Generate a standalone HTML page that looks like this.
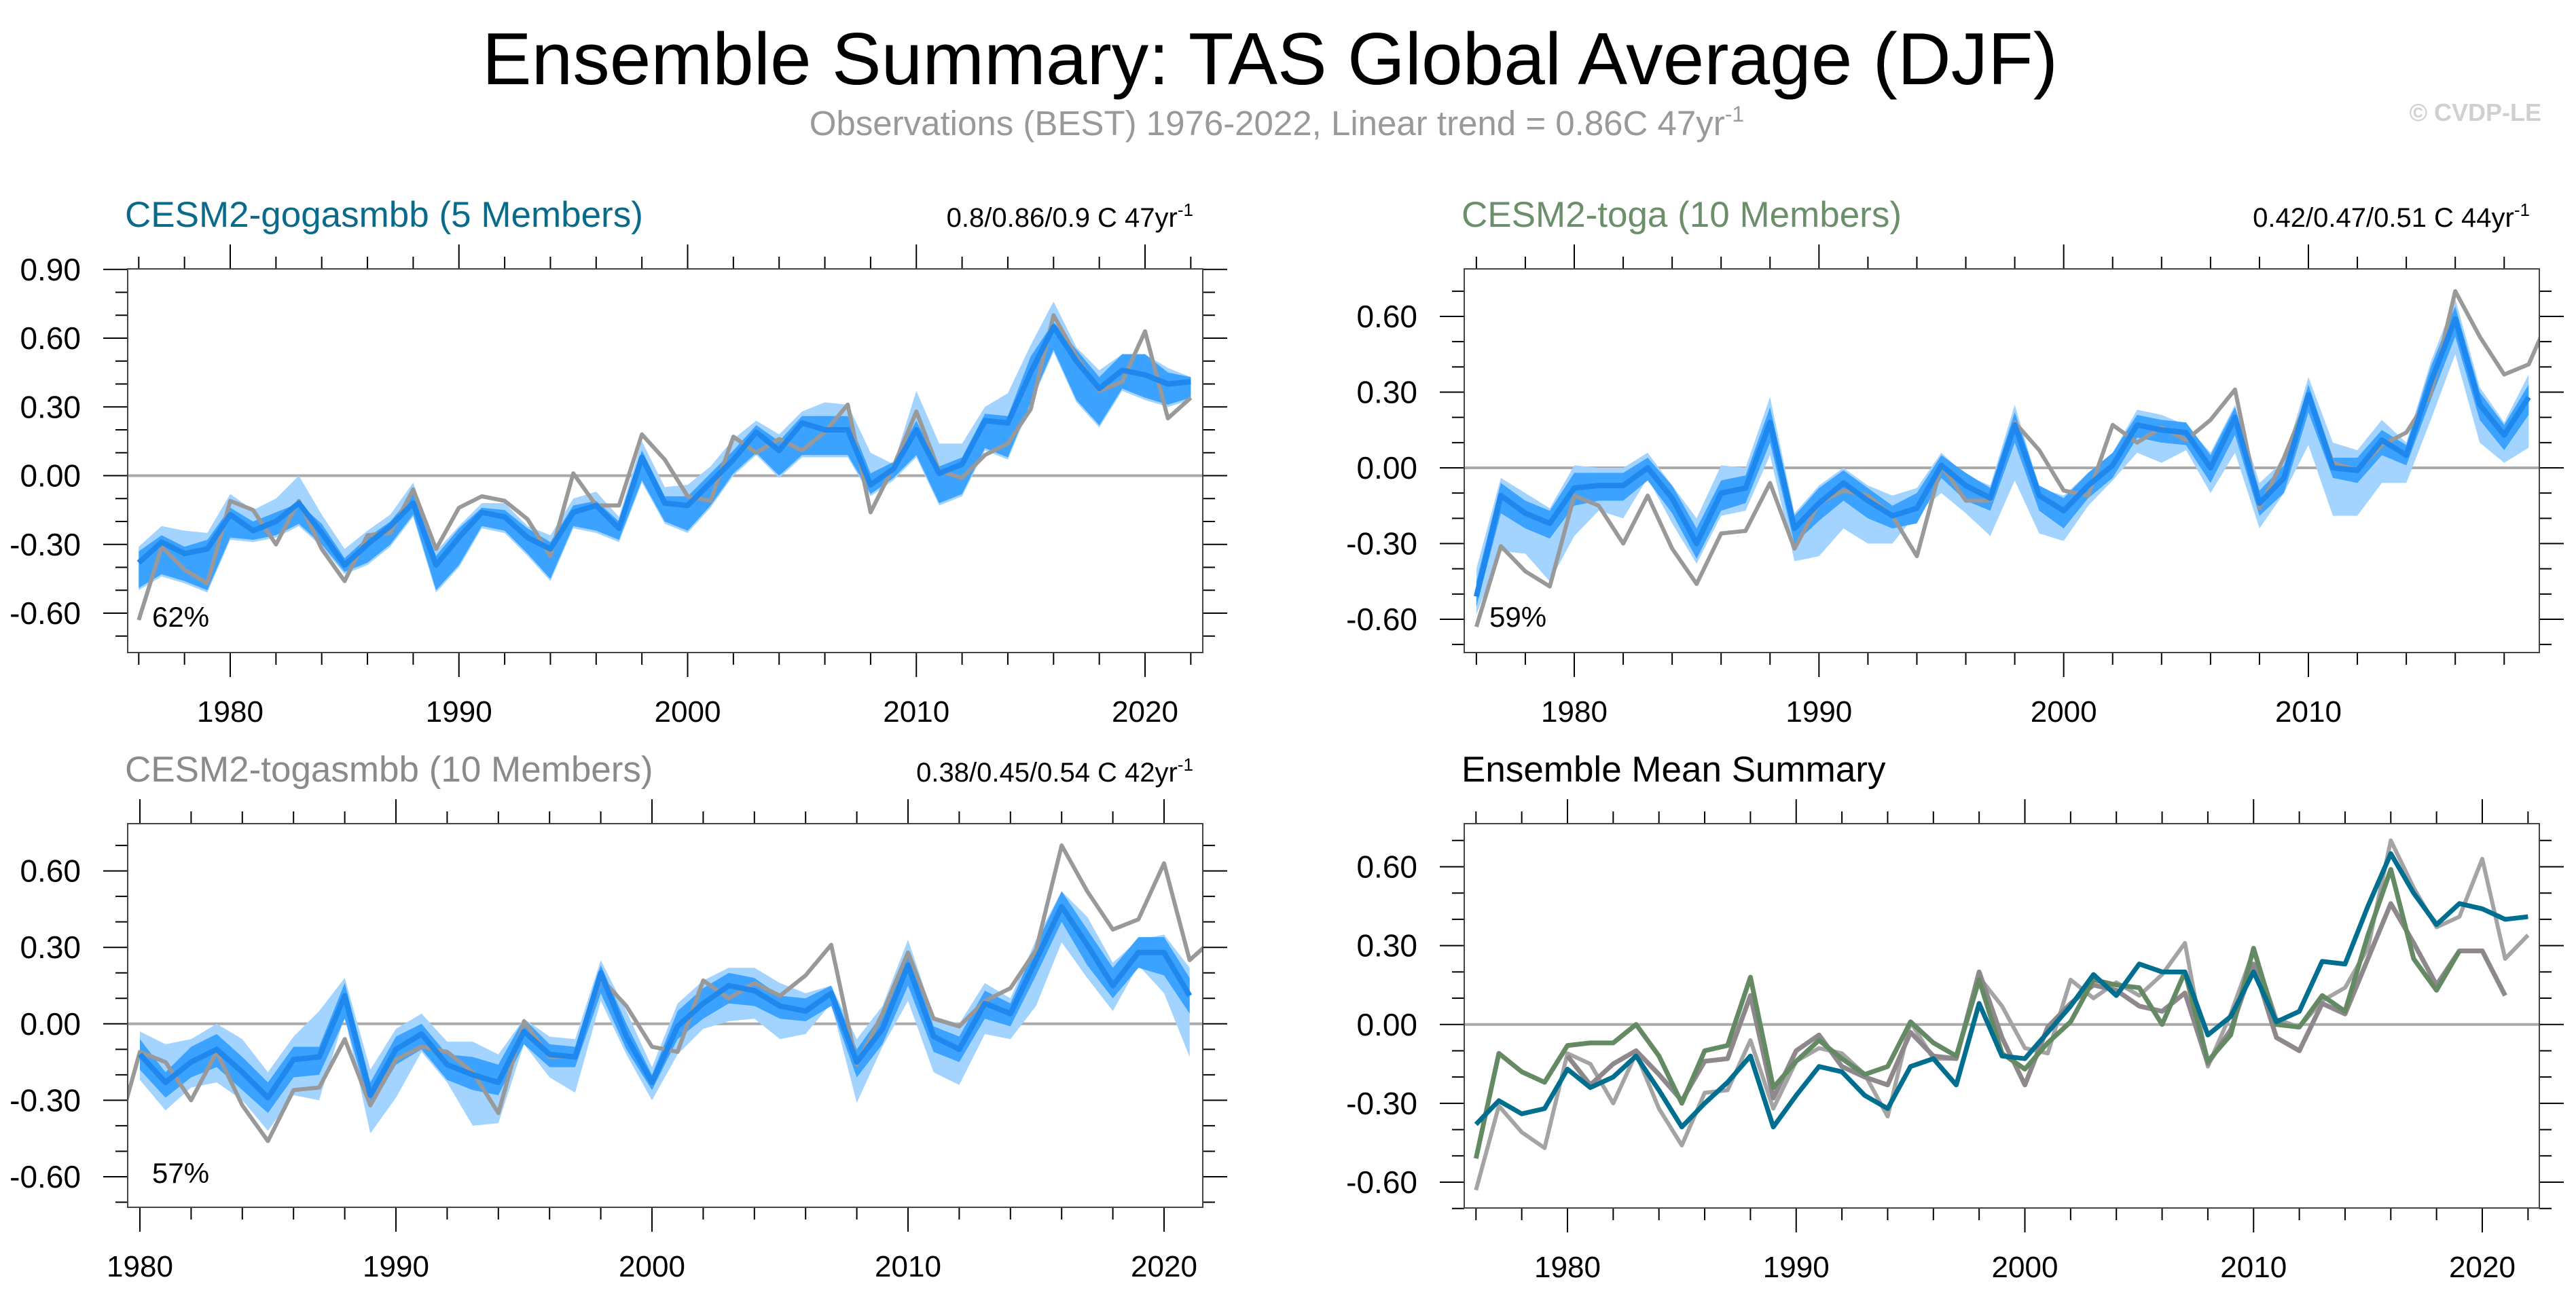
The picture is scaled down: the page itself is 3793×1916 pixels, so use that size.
<!DOCTYPE html>
<html><head><meta charset="utf-8"><style>
html,body{margin:0;padding:0;background:#fff;}
svg{display:block;font-family:"Liberation Sans",sans-serif;}
</style></head><body>
<svg id="chart" width="3793" height="1916" viewBox="0 0 3793 1916" xmlns="http://www.w3.org/2000/svg">
<text x="1870" y="124" font-size="109" text-anchor="middle" fill="#000">Ensemble Summary: TAS Global Average (DJF)</text>
<text x="1880" y="199" font-size="51" text-anchor="middle" fill="#999">Observations (BEST) 1976-2022, Linear trend = 0.86C 47yr<tspan dy="-20" font-size="32">-1</tspan></text>
<text x="3742" y="178" font-size="36" font-weight="bold" text-anchor="end" fill="#d0d0d0">© CVDP-LE</text>
</svg>
<script>
// ---- data ----
const obsYears0 = 1976;
const obs = [-0.63,-0.31,-0.41,-0.47,-0.11,-0.15,-0.30,-0.11,-0.32,-0.46,-0.26,-0.25,-0.06,-0.32,-0.14,-0.09,-0.11,-0.19,-0.35,0.01,-0.13,-0.13,0.18,0.07,-0.09,-0.11,0.17,0.10,0.16,0.11,0.19,0.31,-0.16,0.04,0.28,0.02,-0.01,0.09,0.14,0.29,0.70,0.52,0.37,0.41,0.63,0.25,0.34];

const m1Start = 1976;
const m1Mean = [-0.38,-0.29,-0.34,-0.32,-0.17,-0.24,-0.20,-0.12,-0.25,-0.39,-0.30,-0.22,-0.12,-0.39,-0.27,-0.16,-0.18,-0.27,-0.32,-0.16,-0.13,-0.23,0.08,-0.12,-0.13,-0.03,0.07,0.19,0.11,0.23,0.20,0.20,-0.04,0.03,0.20,0.01,0.05,0.24,0.23,0.45,0.65,0.50,0.38,0.46,0.44,0.40,0.41];
const m1DarkLo = [-0.49,-0.43,-0.46,-0.50,-0.27,-0.28,-0.26,-0.21,-0.30,-0.42,-0.38,-0.30,-0.17,-0.50,-0.39,-0.22,-0.24,-0.34,-0.45,-0.22,-0.24,-0.28,-0.02,-0.20,-0.24,-0.13,0.01,0.10,0.00,0.09,0.09,0.09,-0.08,-0.01,0.09,-0.12,-0.08,0.12,0.08,0.32,0.55,0.33,0.22,0.38,0.34,0.31,0.34];
const m1DarkHi = [-0.33,-0.26,-0.31,-0.28,-0.14,-0.20,-0.16,-0.12,-0.21,-0.36,-0.27,-0.20,-0.08,-0.35,-0.23,-0.14,-0.15,-0.23,-0.29,-0.13,-0.11,-0.20,0.11,-0.09,-0.09,0.01,0.11,0.22,0.15,0.26,0.26,0.26,0.01,0.06,0.24,0.04,0.08,0.27,0.26,0.52,0.67,0.55,0.43,0.53,0.53,0.45,0.43];
const m1LightLo = [-0.50,-0.44,-0.47,-0.51,-0.28,-0.29,-0.27,-0.22,-0.31,-0.43,-0.39,-0.31,-0.18,-0.51,-0.40,-0.23,-0.25,-0.35,-0.46,-0.23,-0.25,-0.29,-0.03,-0.21,-0.25,-0.14,0.00,0.09,-0.01,0.08,0.08,0.08,-0.09,-0.02,0.08,-0.13,-0.09,0.11,0.07,0.31,0.54,0.32,0.21,0.37,0.33,0.30,0.33];
const m1LightHi = [-0.31,-0.22,-0.24,-0.25,-0.08,-0.15,-0.10,0.00,-0.17,-0.32,-0.24,-0.17,-0.03,-0.33,-0.22,-0.12,-0.12,-0.22,-0.26,-0.10,-0.07,-0.18,0.15,-0.05,-0.04,0.04,0.16,0.24,0.18,0.28,0.32,0.31,0.10,0.05,0.37,0.14,0.14,0.30,0.36,0.57,0.76,0.56,0.46,0.53,0.53,0.47,0.43];

const m2Start = 1976;
const m2Mean = [-0.51,-0.11,-0.18,-0.22,-0.08,-0.07,-0.07,0.00,-0.12,-0.30,-0.10,-0.08,0.18,-0.24,-0.14,-0.06,-0.13,-0.19,-0.16,0.01,-0.07,-0.12,0.17,-0.11,-0.17,-0.07,0.01,0.17,0.15,0.14,0.00,0.20,-0.14,-0.04,0.29,0.00,-0.01,0.11,0.05,0.34,0.59,0.25,0.13,0.28];
const m2DarkLo = [-0.55,-0.18,-0.24,-0.28,-0.15,-0.13,-0.13,-0.05,-0.18,-0.36,-0.17,-0.14,0.10,-0.30,-0.21,-0.13,-0.20,-0.24,-0.22,-0.04,-0.13,-0.17,0.10,-0.17,-0.24,-0.12,-0.04,0.12,0.10,0.09,-0.06,0.13,-0.19,-0.10,0.22,-0.04,-0.06,0.05,0.01,0.27,0.52,0.19,0.07,0.21];
const m2DarkHi = [-0.45,-0.06,-0.13,-0.17,-0.02,-0.02,-0.02,0.04,-0.07,-0.24,-0.05,-0.03,0.24,-0.19,-0.08,-0.01,-0.08,-0.15,-0.10,0.05,-0.02,-0.08,0.22,-0.07,-0.12,-0.02,0.06,0.21,0.19,0.18,0.05,0.24,-0.09,0.01,0.33,0.04,0.04,0.15,0.09,0.40,0.64,0.30,0.17,0.33];
const m2LightLo = [-0.58,-0.33,-0.34,-0.45,-0.27,-0.17,-0.20,-0.04,-0.22,-0.38,-0.19,-0.17,0.05,-0.37,-0.35,-0.24,-0.30,-0.30,-0.18,-0.10,-0.18,-0.27,-0.05,-0.26,-0.29,-0.15,-0.05,0.06,0.02,0.07,-0.10,0.06,-0.24,-0.10,0.09,-0.19,-0.19,-0.06,-0.06,0.19,0.45,0.10,0.02,0.08];
const m2LightHi = [-0.40,-0.04,-0.10,-0.16,0.01,0.00,0.00,0.06,-0.07,-0.20,0.01,0.00,0.28,-0.18,-0.07,0.00,-0.07,-0.11,-0.08,0.06,-0.03,-0.07,0.25,-0.08,-0.11,-0.02,0.06,0.23,0.21,0.17,0.06,0.25,-0.06,0.03,0.36,0.10,0.07,0.19,0.10,0.42,0.67,0.32,0.18,0.37];

const m3Start = 1980;
const m3Mean = [-0.12,-0.23,-0.15,-0.10,-0.19,-0.29,-0.14,-0.13,0.11,-0.28,-0.10,-0.04,-0.16,-0.20,-0.23,-0.03,-0.12,-0.13,0.20,-0.05,-0.23,-0.01,0.08,0.15,0.13,0.07,0.05,0.12,-0.15,-0.02,0.23,-0.05,-0.10,0.08,0.04,0.25,0.46,0.31,0.15,0.28,0.28,0.11];
const m3DarkLo = [-0.18,-0.29,-0.21,-0.17,-0.26,-0.35,-0.21,-0.20,0.02,-0.33,-0.16,-0.10,-0.22,-0.26,-0.28,-0.08,-0.17,-0.17,0.12,-0.10,-0.26,-0.06,0.02,0.08,0.07,0.02,0.01,0.07,-0.21,-0.08,0.15,-0.11,-0.15,0.02,-0.01,0.19,0.40,0.23,0.10,0.22,0.19,0.04];
const m3DarkHi = [-0.06,-0.19,-0.09,-0.04,-0.13,-0.23,-0.09,-0.09,0.16,-0.23,-0.05,0.00,-0.12,-0.13,-0.16,0.02,-0.08,-0.09,0.23,0.00,-0.20,0.05,0.14,0.20,0.18,0.11,0.10,0.15,-0.10,0.04,0.28,-0.01,-0.05,0.13,0.08,0.31,0.52,0.37,0.22,0.34,0.34,0.18];
const m3LightLo = [-0.22,-0.34,-0.25,-0.23,-0.30,-0.42,-0.28,-0.30,0.03,-0.43,-0.29,-0.11,-0.23,-0.40,-0.39,-0.08,-0.21,-0.27,0.09,-0.12,-0.30,-0.12,-0.02,0.01,0.02,-0.06,-0.04,0.08,-0.31,-0.09,0.09,-0.19,-0.24,-0.04,-0.06,0.07,0.32,0.18,0.05,0.23,0.12,-0.13];
const m3LightHi = [-0.03,-0.08,-0.06,0.00,-0.06,-0.19,-0.05,0.05,0.18,-0.18,-0.02,0.04,-0.07,-0.07,-0.12,0.02,-0.05,-0.06,0.25,0.05,-0.17,0.08,0.17,0.22,0.22,0.16,0.12,0.15,-0.06,0.07,0.33,0.03,0.00,0.16,0.10,0.33,0.52,0.42,0.24,0.33,0.35,0.22];

const xTickYears = [1980,1990,2000,2010,2020];

// ---- drawing ----
const NS = "http://www.w3.org/2000/svg";
const svg = document.getElementById("chart");
function mk(tag, attrs, parent){
  const e = document.createElementNS(NS, tag);
  for (const k in attrs) e.setAttribute(k, attrs[k]);
  (parent||svg).appendChild(e);
  return e;
}
let clipN = 0;
function panel(cfg){
  const g = mk("g", {});
  
  
  const xs = yr => cfg.xa + (yr - cfg.ya) * (cfg.xb - cfg.xa) / (cfg.yb - cfg.ya);
  const ys = v => cfg.v0 + (v - 0.6) * (cfg.v1 - cfg.v0) / (-1.2);
  const {L,R,T,B} = cfg;
  const yMin = 1976, yMax = 2022;
  const tk = mk("g", {stroke:"#000","stroke-width":2}, g);
  
  
  for (let yr = yMin; yr <= yMax; yr += 2) {
    const x = xs(yr);
    if (x < L - 1 || x > R + 1) continue;
    const major = yr % 10 === 0;
    const len = major ? 36 : 18;
    mk("line", {x1:x, y1:T, x2:x, y2:T - len}, tk);
    mk("line", {x1:x, y1:B, x2:x, y2:B + len}, tk);
  }
  for (let i = -10; i <= 10; i++) {
    const v = i / 10;
    const y = ys(v);
    if (y < T - 1 || y > B + 1) continue;
    const major = (i % 3 === 0);
    const len = major ? 36 : 18;
    mk("line", {x1:L, y1:y, x2:L - len, y2:y}, tk);
    mk("line", {x1:R, y1:y, x2:R + len, y2:y}, tk);
    if (major) {
      const lab = (v === 0 ? "0.00" : v.toFixed(2));
      const t = mk("text", {x:L - 69, y:y + 16, "font-size":46, "text-anchor":"end", fill:"#000"}, g);
      
      
      t.textContent = lab;
    }
  }
  xTickYears.forEach(yr => {
    const x = xs(yr);
    if (x < L - 5 || x > R + 5) return;
    const t = mk("text", {x:x, y:B + 102, "font-size":44, "text-anchor":"middle", fill:"#000"}, g);
    
    
    t.textContent = yr;
  });
  const cid = "clip" + (clipN++);
  const cp = mk("clipPath", {id:cid}, g);
  mk("rect", {x:L, y:T, width:R-L, height:B-T}, cp);
  const body = mk("g", {"clip-path":"url(#"+cid+")"}, g);
  const zl = mk("line", {x1:L, x2:R, y1:ys(0), y2:ys(0), stroke:"#aaa", "stroke-width":4}, body);
  
  
  function band(start, lo, hi, fill, nm){
    let pts = [];
    for (let i = 0; i < lo.length; i++) pts.push(xs(start+i)+","+ys(hi[i]));
    for (let i = lo.length-1; i >= 0; i--) pts.push(xs(start+i)+","+ys(lo[i]));
    const p = mk("polygon", {points:pts.join(" "), fill:fill}, body);
    
    
  }
  function line(start, vals, color, w, nm){
    const pts = vals.map((v,i)=> xs(start+i)+","+ys(v)).join(" ");
    const p = mk("polyline", {points:pts, fill:"none", stroke:color, "stroke-width":w, "stroke-linejoin":"round"}, body);
    
    
  }
  if (cfg.model) {
    const m = cfg.model;
    band(m.start, m.lLo, m.lHi, "#a3d3ff", "light-spread-band");
    band(m.start, m.dLo, m.dHi, "#3ba2ff", "dark-spread-band");
    line(obsYears0, obs, "#999", 6, "observations-line");
    line(m.start, m.mean, "#1e88ee", 8, "ensemble-mean-line");
  }
  if (cfg.summary) {
    line(obsYears0, obs, "#a4a4a4", 6, "observations-line");
    line(m3Start, m3Mean, "#8e888c", 7, "togasmbb-mean-line");
    line(m2Start, m2Mean, "#638a63", 7, "toga-mean-line");
    line(m1Start, m1Mean, "#006e8e", 7, "gogasmbb-mean-line");
  }
  const fr = mk("rect", {x:L, y:T, width:R-L, height:B-T, fill:"none", stroke:"#444", "stroke-width":2}, g);
  
  
  const tt = mk("text", {x:L - 4, y:T - 62, "font-size":53, fill:cfg.titleColor}, g);
  
  
  tt.textContent = cfg.title;
  if (cfg.trend) {
    const tr = mk("text", {x:R - 14, y:T - 62, "font-size":40, "text-anchor":"end", fill:"#000"}, g);
    
    
    tr.textContent = cfg.trend;
    const sp = mk("tspan", {dy:-16, "font-size":26}, tr);
    sp.textContent = "-1";
  }
  if (cfg.pct) {
    const pt = mk("text", {x:cfg.pctX, y:cfg.pctY, "font-size":42, fill:"#000"}, g);
    
    
    pt.textContent = cfg.pct;
  }
}
panel({name:"panel-cesm2-gogasmbb", L:188, R:1771, T:396, B:961, xa:339, ya:1980, xb:1686, yb:2020, v0:498, v1:903,
  title:"CESM2-gogasmbb (5 Members)", titleColor:"#0a6a8a", trend:"0.8/0.86/0.9 C 47yr", pct:"62%", pctX:224, pctY:923,
  model:{start:m1Start, mean:m1Mean, dLo:m1DarkLo, dHi:m1DarkHi, lLo:m1LightLo, lHi:m1LightHi}});
panel({name:"panel-cesm2-toga", L:2156, R:3739, T:396, B:961, xa:2318, ya:1980, xb:3399, yb:2010, v0:466, v1:912,
  title:"CESM2-toga (10 Members)", titleColor:"#6a8f6a", trend:"0.42/0.47/0.51 C 44yr", pct:"59%", pctX:2193, pctY:923,
  model:{start:m2Start, mean:m2Mean, dLo:m2DarkLo, dHi:m2DarkHi, lLo:m2LightLo, lHi:m2LightHi}});
panel({name:"panel-cesm2-togasmbb", L:188, R:1771, T:1213, B:1778, xa:206, ya:1980, xb:1714, yb:2020, v0:1282.6, v1:1733,
  title:"CESM2-togasmbb (10 Members)", titleColor:"#8a8a8a", trend:"0.38/0.45/0.54 C 42yr", pct:"57%", pctX:224, pctY:1742,
  model:{start:m3Start, mean:m3Mean, dLo:m3DarkLo, dHi:m3DarkHi, lLo:m3LightLo, lHi:m3LightHi}});
panel({name:"panel-ensemble-mean-summary", L:2156, R:3739, T:1213, B:1779, xa:2308, ya:1980, xb:3655, yb:2020, v0:1276.5, v1:1741,
  title:"Ensemble Mean Summary", titleColor:"#000", summary:true});
</script>
</body></html>
